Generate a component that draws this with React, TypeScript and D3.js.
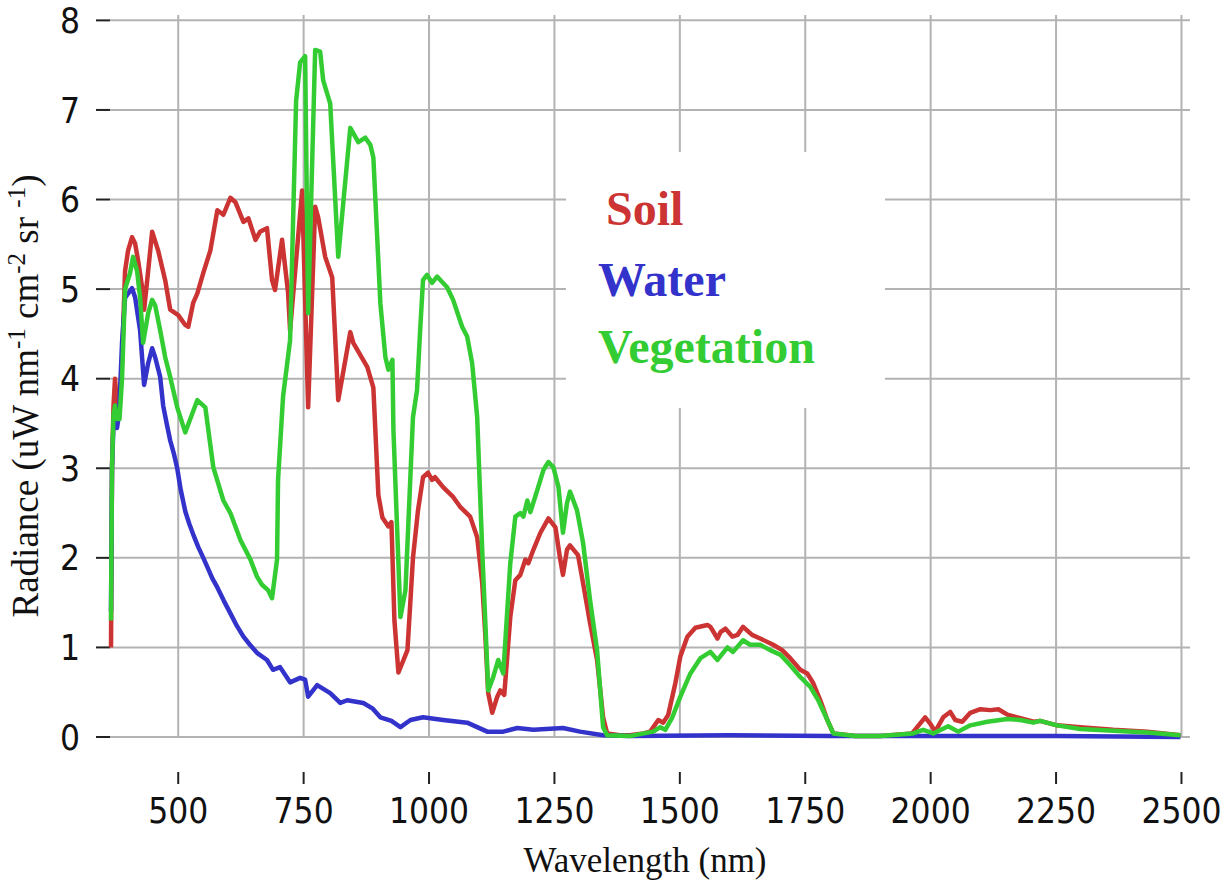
import React, { useEffect, useRef } from "react";
import * as d3 from "d3";

// Spectra: [wavelength nm, radiance]
const soil: [number, number][] = [
  [366, 1.0], [368, 3.0], [371, 3.7], [374, 4.0], [378, 3.7], [383, 3.65], [388, 4.2],
  [394, 5.2], [400, 5.43], [408, 5.58], [414, 5.51], [420, 5.32], [428, 5.02], [432, 4.77],
  [440, 5.2], [448, 5.64], [460, 5.43], [474, 5.1], [484, 4.77], [500, 4.71], [514, 4.6],
  [520, 4.58], [530, 4.85], [538, 4.95], [550, 5.18], [564, 5.43], [578, 5.88], [590, 5.83],
  [604, 6.02], [614, 5.97], [630, 5.75], [640, 5.79], [654, 5.55], [663, 5.64], [677, 5.68],
  [687, 5.1], [693, 4.99], [707, 5.55], [719, 4.96], [723, 4.54], [747, 6.1], [759, 3.68],
  [773, 5.92], [779, 5.8], [793, 5.36], [807, 5.13], [819, 3.76], [843, 4.52], [849, 4.4],
  [877, 4.13], [889, 3.9], [899, 2.7], [907, 2.45], [919, 2.35], [925, 2.4], [931, 1.3],
  [939, 0.72], [957, 0.97], [968, 2.0], [978, 2.53], [988, 2.9], [998, 2.95], [1006, 2.87],
  [1012, 2.9], [1028, 2.79], [1048, 2.68], [1062, 2.57], [1082, 2.46], [1096, 2.23],
  [1106, 1.72], [1112, 1.16], [1118, 0.49], [1126, 0.27], [1136, 0.45], [1142, 0.52],
  [1150, 0.47], [1162, 1.34], [1172, 1.75], [1182, 1.81], [1192, 1.98], [1198, 1.94],
  [1208, 2.09], [1222, 2.28], [1238, 2.44], [1252, 2.34], [1261, 2.0], [1267, 1.81],
  [1275, 2.09], [1281, 2.14], [1297, 2.03], [1307, 1.72], [1321, 1.27], [1335, 0.86],
  [1347, 0.22], [1355, 0.04], [1380, 0.02], [1400, 0.02], [1427, 0.04], [1441, 0.06],
  [1457, 0.19], [1467, 0.16], [1477, 0.25], [1491, 0.6], [1501, 0.9], [1515, 1.12],
  [1531, 1.22], [1555, 1.25], [1561, 1.23], [1575, 1.1], [1581, 1.17], [1591, 1.21],
  [1605, 1.12], [1615, 1.14], [1626, 1.23], [1644, 1.14], [1660, 1.1], [1686, 1.03],
  [1704, 0.97], [1720, 0.88], [1740, 0.75], [1754, 0.71], [1766, 0.6], [1780, 0.41],
  [1794, 0.19], [1806, 0.04], [1850, 0.01], [1900, 0.01], [1963, 0.04], [1989, 0.22],
  [1999, 0.15], [2009, 0.06], [2025, 0.22], [2039, 0.28], [2049, 0.19], [2063, 0.17],
  [2079, 0.27], [2099, 0.31], [2119, 0.3], [2135, 0.31], [2153, 0.25], [2179, 0.21],
  [2205, 0.17], [2218, 0.18], [2252, 0.13], [2298, 0.11], [2364, 0.08], [2432, 0.06],
  [2498, 0.02],
];

const water: [number, number][] = [
  [366, 1.4], [368, 3.0], [371, 3.5], [374, 3.6], [378, 3.45], [382, 3.6], [388, 4.4],
  [394, 4.9], [400, 4.95], [408, 5.01], [414, 4.91], [424, 4.54], [432, 3.93], [440, 4.17],
  [448, 4.34], [454, 4.24], [464, 4.02], [470, 3.7], [477, 3.5], [484, 3.31], [491, 3.17],
  [498, 3.0], [505, 2.76], [514, 2.52], [522, 2.38], [530, 2.26], [540, 2.12], [550, 2.0],
  [568, 1.77], [578, 1.67], [591, 1.52], [604, 1.38], [617, 1.24], [630, 1.12], [643, 1.03],
  [657, 0.94], [677, 0.86], [689, 0.75], [703, 0.78], [723, 0.61], [743, 0.66], [753, 0.64],
  [759, 0.45], [777, 0.58], [803, 0.49], [823, 0.38], [837, 0.41], [869, 0.38], [887, 0.32],
  [903, 0.22], [925, 0.18], [943, 0.11], [963, 0.19], [988, 0.22], [1028, 0.19],
  [1076, 0.16], [1116, 0.06], [1148, 0.06], [1176, 0.1], [1208, 0.08], [1267, 0.1],
  [1301, 0.06], [1347, 0.02], [1400, 0.01], [1600, 0.02], [1800, 0.01], [2000, 0.01],
  [2250, 0.01], [2498, 0.0],
];

const vegetation: [number, number][] = [
  [366, 1.3], [368, 3.0], [371, 3.6], [374, 3.7], [378, 3.55], [383, 3.55], [388, 4.0],
  [394, 5.0], [404, 5.18], [410, 5.36], [418, 5.2], [424, 4.91], [430, 4.4], [440, 4.73],
  [448, 4.88], [454, 4.82], [464, 4.54], [474, 4.24], [484, 4.02], [498, 3.68], [514, 3.4],
  [538, 3.76], [554, 3.68], [570, 3.01], [590, 2.64], [604, 2.5], [624, 2.2], [644, 1.98],
  [657, 1.79], [667, 1.7], [679, 1.64], [687, 1.55], [697, 1.98], [699, 2.87], [709, 3.8],
  [723, 4.43], [735, 7.1], [743, 7.53], [753, 7.6], [759, 4.73], [773, 7.67], [783, 7.65],
  [789, 7.33], [803, 7.07], [819, 5.36], [843, 6.8], [859, 6.64], [873, 6.69], [883, 6.61],
  [889, 6.47], [903, 4.84], [913, 4.24], [919, 4.1], [927, 4.21], [929, 3.43], [943, 1.34],
  [953, 1.64], [968, 3.57], [976, 3.87], [982, 4.51], [988, 5.1], [996, 5.16], [1006, 5.07],
  [1016, 5.14], [1036, 5.02], [1048, 4.88], [1066, 4.58], [1076, 4.47], [1086, 4.17],
  [1096, 3.57], [1106, 2.09], [1118, 0.52], [1128, 0.67], [1138, 0.86], [1148, 0.71],
  [1162, 1.94], [1172, 2.46], [1182, 2.5], [1188, 2.46], [1196, 2.64], [1202, 2.51],
  [1216, 2.76], [1228, 2.98], [1238, 3.07], [1248, 3.01], [1258, 2.79], [1267, 2.28],
  [1275, 2.61], [1281, 2.74], [1295, 2.53], [1307, 2.17], [1321, 1.53], [1335, 0.97],
  [1347, 0.11], [1355, 0.02], [1400, 0.01], [1447, 0.06], [1461, 0.11], [1471, 0.08],
  [1485, 0.22], [1501, 0.45], [1521, 0.71], [1541, 0.88], [1561, 0.95], [1575, 0.86],
  [1595, 1.0], [1606, 0.95], [1626, 1.08], [1640, 1.03], [1660, 1.03], [1680, 0.97],
  [1700, 0.92], [1720, 0.8], [1740, 0.67], [1760, 0.56], [1776, 0.41], [1794, 0.19],
  [1806, 0.04], [1850, 0.01], [1900, 0.01], [1965, 0.04], [1985, 0.08], [2005, 0.04],
  [2035, 0.12], [2055, 0.06], [2079, 0.13], [2113, 0.17], [2153, 0.2], [2179, 0.19],
  [2205, 0.16], [2218, 0.18], [2252, 0.13], [2298, 0.09], [2364, 0.07], [2432, 0.05],
  [2498, 0.02],
];

const xTicks = [500, 750, 1000, 1250, 1500, 1750, 2000, 2250, 2500];
const yTicks = [0, 1, 2, 3, 4, 5, 6, 7, 8];

const series = [
  { name: "Soil", data: soil, color: "#cc3333" },
  { name: "Water", data: water, color: "#3333cc" },
  { name: "Vegetation", data: vegetation, color: "#33cc33" },
];

const width = 1231;
const height = 886;

const App: React.FC = () => {
  const svgRef = useRef<SVGSVGElement | null>(null);

  useEffect(() => {
    if (!svgRef.current) return;
    document.body.style.margin = "0";

    const svg = d3.select(svgRef.current);
    svg.selectAll("*").remove();

    const x = d3.scaleLinear().domain([364, 2517]).range([110, 1190]);
    const y = d3.scaleLinear().domain([0, 8.06]).range([737, 15]);

    const gridColor = "#b3b3b3";
    const tickFont = "'DejaVu Sans Condensed', 'DejaVu Sans', sans-serif";
    const serif = "'Liberation Serif', 'Times New Roman', serif";

    // grille
    svg
      .append("g")
      .selectAll("line")
      .data(yTicks)
      .enter()
      .append("line")
      .attr("x1", 110)
      .attr("x2", 1190)
      .attr("y1", (d) => y(d))
      .attr("y2", (d) => y(d))
      .style("stroke", gridColor)
      .style("stroke-width", 2);

    svg
      .append("g")
      .selectAll("line")
      .data(xTicks)
      .enter()
      .append("line")
      .attr("x1", (d) => x(d))
      .attr("x2", (d) => x(d))
      .attr("y1", 15)
      .attr("y2", 737)
      .style("stroke", gridColor)
      .style("stroke-width", 2);

    // axe Y (ticks only, no spine)
    const yAxis = svg.append("g");
    yAxis
      .selectAll("line")
      .data(yTicks)
      .enter()
      .append("line")
      .attr("x1", 96)
      .attr("x2", 110)
      .attr("y1", (d) => y(d))
      .attr("y2", (d) => y(d))
      .style("stroke", "#222")
      .style("stroke-width", 2);
    yAxis
      .selectAll("text")
      .data(yTicks)
      .enter()
      .append("text")
      .attr("x", 80)
      .attr("y", (d) => y(d))
      .attr("dy", "0.36em")
      .attr("text-anchor", "end")
      .style("font-family", tickFont)
      .style("font-size", "35px")
      .style("fill", "#111")
      .text((d) => String(d));

    // axe X, décalé vers le bas
    const xAxis = svg.append("g");
    xAxis
      .selectAll("line")
      .data(xTicks)
      .enter()
      .append("line")
      .attr("x1", (d) => x(d))
      .attr("x2", (d) => x(d))
      .attr("y1", 772)
      .attr("y2", 784)
      .style("stroke", "#222")
      .style("stroke-width", 2);
    xAxis
      .selectAll("text")
      .data(xTicks)
      .enter()
      .append("text")
      .attr("x", (d) => x(d))
      .attr("y", 823)
      .attr("text-anchor", "middle")
      .style("font-family", tickFont)
      .style("font-size", "35px")
      .style("fill", "#111")
      .text((d) => String(d));

    // courbes
    const line = d3
      .line<[number, number]>()
      .x((d) => x(d[0]))
      .y((d) => y(d[1]));

    series.forEach((s) => {
      svg
        .append("path")
        .datum(s.data)
        .attr("d", line)
        .attr("fill", "none")
        .attr("stroke", s.color)
        .attr("stroke-width", 4.5)
        .attr("stroke-linejoin", "round");
    });

    // légende
    svg
      .append("rect")
      .attr("x", 566)
      .attr("y", 152)
      .attr("width", 319)
      .attr("height", 256)
      .attr("fill", "#fff");

    const legendPos = [
      { x: 606, y: 225 },
      { x: 598, y: 296 },
      { x: 598, y: 363 },
    ];
    series.forEach((s, i) => {
      svg
        .append("text")
        .attr("x", legendPos[i].x)
        .attr("y", legendPos[i].y)
        .style("font-family", serif)
        .style("font-weight", "bold")
        .style("font-size", "48px")
        .style("fill", s.color)
        .text(s.name);
    });

    // titres d'axes
    svg
      .append("text")
      .attr("x", 645)
      .attr("y", 872)
      .attr("text-anchor", "middle")
      .style("font-family", serif)
      .style("font-size", "35px")
      .style("fill", "#111")
      .text("Wavelength (nm)");

    const yl = svg
      .append("text")
      .attr("transform", "translate(38,396) rotate(-90)")
      .attr("text-anchor", "middle")
      .style("font-family", serif)
      .style("font-size", "37px")
      .style("fill", "#111");
    const parts: [string, boolean][] = [
      ["Radiance (uW nm", false],
      ["-1", true],
      [" cm", false],
      ["-2", true],
      [" sr ", false],
      ["-1", true],
      [")", false],
    ];
    parts.forEach(([t, sup]) => {
      const ts = yl.append("tspan").text(t);
      if (sup) {
        ts.attr("baseline-shift", "super").style("font-size", "25px");
      }
    });
  }, []);

  return (
    <div>
      <svg ref={svgRef} width={width} height={height} style={{ display: "block", background: "#fff" }}></svg>
    </div>
  );
};

export default App;
